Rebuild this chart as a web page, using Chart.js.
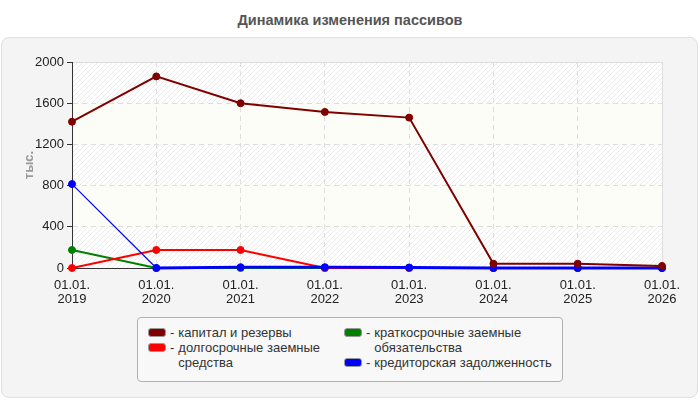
<!DOCTYPE html>
<html>
<head>
<meta charset="utf-8">
<script src="https://cdn.jsdelivr.net/npm/chart.js@4"></script>
<style>
  html, body { margin: 0; padding: 0; background: #fff; }
  body { width: 700px; height: 400px; position: relative; overflow: hidden; font-family: Arial, "Liberation Sans", sans-serif; }
  #panel { position: absolute; left: 1px; top: 37px; width: 695px; height: 359px; background: #f4f4f4; border: 1px solid #e0e0e0; border-radius: 8px; }
  #title { position: absolute; left: 0; top: 12px; width: 700px; text-align: center; font-weight: bold; font-size: 14.5px; color: #555; }
  #wrap { position: absolute; left: 0; top: 0; width: 700px; height: 400px; }
  #legend { position: absolute; left: 137px; top: 317px; width: 424px; height: 63px; border: 1px solid #b0b0b0; border-radius: 4px; background: #f8f8f8; font-size: 13px; color: #333; line-height: 15px; }
  .col { position: absolute; top: 7px; }
  .item { display: flex; align-items: flex-start; }
  .sw { width: 16px; height: 7px; border: 1px solid #999; border-radius: 3px; margin-top: 3px; margin-right: 4px; flex: none; }
  .dash { margin-right: 4px; }
</style>
</head>
<body>
<div id="panel"></div>
<div id="title">Динамика изменения пассивов</div>
<div id="wrap"><canvas id="chart" width="700" height="400"></canvas></div>
<div id="legend"></div>
<script>
const years = ['2019', '2020', '2021', '2022', '2023', '2024', '2025', '2026']
const labels = years.map((y) => ['01.01.', y])

const seriesNames = ['капитал и резервы', 'долгосрочные заемные средства', 'краткосрочные заемные обязательства', 'кредиторская задолженность']
const capital = [1420, 1860, 1600, 1515, 1460, 42, 42, 20]
const longTerm = [0, 175, 175, 0, 0, 0, 0, 0]
const shortTerm = [175, 0, 0, 0, 0, 0, 0, 0]
const payables = [815, 0, 8, 8, 5, 0, 0, 0]
const colors = ['#800000', '#ff0000', '#008000', '#0000ff']

const yTicks = [0, 400, 800, 1200, 1600, 2000]

function hatch() {
  const c = document.createElement('canvas')
  c.width = 5
  c.height = 5
  const g = c.getContext('2d')
  g.fillStyle = '#ffffff'
  g.fillRect(0, 0, 5, 5)
  g.strokeStyle = '#ececec'
  g.lineWidth = 1
  g.beginPath()
  g.moveTo(-1, 6); g.lineTo(6, -1)
  g.moveTo(-1, 1); g.lineTo(1, -1)
  g.moveTo(4, 6); g.lineTo(6, 4)
  g.stroke()
  return c
}

const bandsPlugin = {
  id: 'bands',
  beforeDraw(chart) {
    const { ctx, chartArea: a, scales } = chart
    const y = scales.y
    const pat = ctx.createPattern(hatch(), 'repeat')
    ctx.save()
    for (let i = 0; i < yTicks.length - 1; i += 1) {
      const top = y.getPixelForValue(yTicks[i + 1])
      const bot = y.getPixelForValue(yTicks[i])
      ctx.fillStyle = i % 2 === 0 ? pat : '#fcfdf6'
      ctx.fillRect(a.left, top, a.right - a.left, bot - top)
    }
    ctx.strokeStyle = '#dcdcdc'
    ctx.lineWidth = 1
    ctx.strokeRect(a.left + 0.5, a.top + 0.5, a.right - a.left, a.bottom - a.top)
    ctx.restore()
  },
}

const datasets = [capital, longTerm, shortTerm, payables].map((data, i) => ({
  label: seriesNames[i],
  data,
  borderColor: colors[i],
  backgroundColor: colors[i],
  pointBackgroundColor: colors[i],
  pointBorderColor: colors[i],
  pointRadius: 3.5,
  pointBorderWidth: 1,
  borderWidth: [2, 2.2, 2, 2.8][i],
  order: [0, 2, 3, 1][i],
  clip: false,
  tension: 0,
}))
datasets[3].segment = { borderWidth: (c) => (c.p0DataIndex === 0 ? 1.2 : 2.8) }

const tickFont = { family: 'Arial, "Liberation Sans", sans-serif', size: 13, lineHeight: 1.05 }

new Chart(document.getElementById('chart'), {
  type: 'line',
  data: { labels, datasets },
  plugins: [bandsPlugin],
  options: {
    responsive: false,
    animation: false,
    devicePixelRatio: 1,
    layout: { padding: { left: 0, right: 38, top: 62, bottom: 92 } },
    plugins: { legend: { display: false }, title: { display: false }, tooltip: { enabled: false } },
    scales: {
      x: {
        offset: false,
        afterFit: (s) => { s.height = 40 },
        grid: { color: '#dedede', drawTicks: false },
        border: { color: '#333', width: 1, dash: [5, 4] },
        ticks: { color: '#222', font: tickFont, padding: 11, maxRotation: 0, autoSkip: false },
      },
      y: {
        min: 0,
        max: 2000,
        afterFit: (s) => { s.width = 72 },
        afterBuildTicks: (s) => { s.ticks = yTicks.map((v) => ({ value: v })) },
        grid: { color: '#dedede', tickColor: '#333', tickLength: 5, tickBorderDash: [] },
        border: { color: '#333', width: 1, dash: [5, 4] },
        ticks: { color: '#222', font: tickFont, padding: 3, callback: (v) => String(v) },
        title: { display: true, text: 'тыс.', color: '#999', font: { family: 'Arial, "Liberation Sans", sans-serif', size: 13, weight: 'bold' }, padding: { top: 22, bottom: 0 } },
      },
    },
  },
})

// legend in two columns
const legend = document.getElementById('legend')
const cols = [
  { left: 10, width: 175, items: [0, 1] },
  { left: 206, width: 215, items: [2, 3] },
]
cols.forEach((col) => {
  const div = document.createElement('div')
  div.className = 'col'
  div.style.left = col.left + 'px'
  div.style.width = col.width + 'px'
  col.items.forEach((i) => {
    const it = document.createElement('div')
    it.className = 'item'
    it.innerHTML = `<span class="sw" style="background:${colors[i]}"></span><span class="dash">-</span><span>${seriesNames[i]}</span>`
    div.appendChild(it)
  })
  legend.appendChild(div)
})
</script>
</body>
</html>
